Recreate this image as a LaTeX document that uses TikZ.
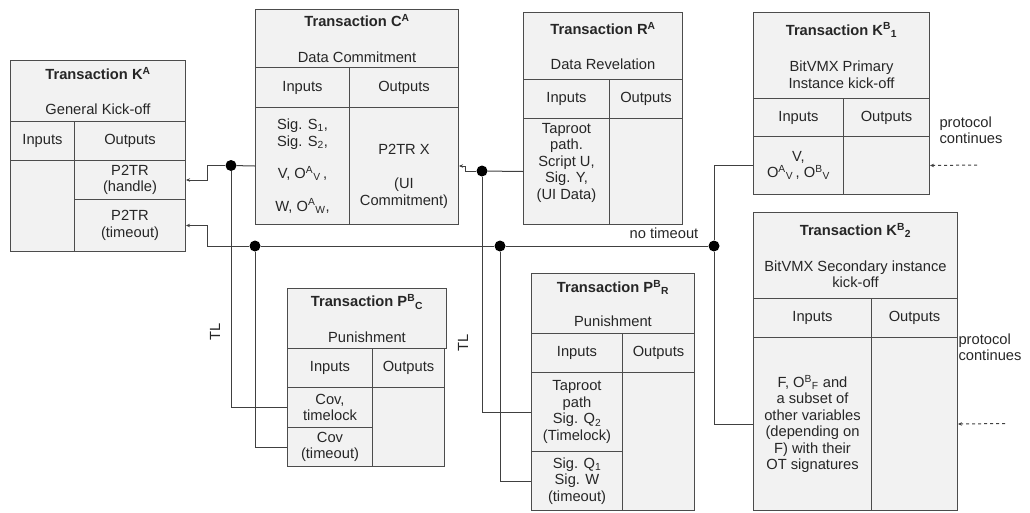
\documentclass[tikz,border=0pt]{standalone}
\usepackage{fontspec}
\setmainfont{Liberation Sans}
\usetikzlibrary{arrows.meta}

\begin{document}
\begin{tikzpicture}[x=1pt, y=-1pt,
  every node/.style={font=\fontsize{14.7pt}{16.5pt}\selectfont, text=black!85},
  cell/.style 2 args={draw=black!70, fill=gray!10, line width=1pt, anchor=north west,
    inner sep=0pt, align=center, minimum width=#1, minimum height=#2},
  link/.style={draw=black!75, line width=1pt},
  tip/.style={-{Stealth[length=4pt, width=3.5pt]}},
  junction/.style={circle, fill=black, inner sep=0pt, minimum size=11pt},
  continues/.style={link, dashed, tip}]
  \useasboundingbox (0,0) rectangle (1030,512);

  % Transaction K^A
  \node[cell={175pt}{61pt}] (ka-title) at (10,60) {\textbf{Transaction K\textsuperscript{A}}\\[19pt]General Kick-off};
  \node[cell={64pt}{39pt}] (ka-in) at (10,121) {Inputs};
  \node[cell={111pt}{39pt}] (ka-out) at (74,121) {Outputs};
  \node[cell={64pt}{91pt}] (ka-inbody) at (10,160) {};
  \node[cell={111pt}{39pt}] (ka-handle) at (74,160) {P2TR\\(handle)};
  \node[cell={111pt}{52pt}] (ka-timeout) at (74,199) {P2TR\\(timeout)};

  % Transaction C^A
  \node[cell={203pt}{58pt}] (ca-title) at (255,9) {\textbf{Transaction C\textsuperscript{A}}\\[19pt]Data Commitment};
  \node[cell={94pt}{40pt}] (ca-in) at (255,67) {Inputs};
  \node[cell={109pt}{40pt}] (ca-out) at (349,67) {Outputs};
  \node[cell={94pt}{117pt}] (ca-inbody) at (255,107) {Sig. S\textsubscript{1},\\Sig. S\textsubscript{2},\\[16pt]V, O\textsuperscript{A}\textsubscript{V}\,,\\[16pt]W, O\textsuperscript{A}\textsubscript{W},};
  \node[cell={109pt}{117pt}] (ca-outbody) at (349,107) {};
  \node[align=center] (ca-outtext) at ([yshift=-10pt]ca-outbody.center) {P2TR X\\[18pt](UI\\Commitment)};

  % Transaction R^A
  \node[cell={159pt}{67pt}] (ra-title) at (523,12) {\textbf{Transaction R\textsuperscript{A}}\\[18pt]Data Revelation};
  \node[cell={86pt}{39pt}] (ra-in) at (523,79) {Inputs};
  \node[cell={73pt}{39pt}] (ra-out) at (609,79) {Outputs};
  \node[cell={86pt}{106pt}] (ra-inbody) at (523,118) {};
  \node[cell={73pt}{106pt}] (ra-outbody) at (609,118) {};
  \node[align=center] (ra-intext) at ([yshift=9pt]ra-inbody.center) {Taproot\\path.\\Script U,\\Sig. Y,\\(UI Data)};

  % Transaction K^B_1
  \node[cell={176pt}{86pt}] (kb1-title) at (753,12) {\textbf{Transaction K\textsuperscript{B}\textsubscript{1}}\\[20pt]BitVMX Primary\\Instance kick-off};
  \node[cell={90pt}{38pt}] (kb1-in) at (753,98) {Inputs};
  \node[cell={86pt}{38pt}] (kb1-out) at (843,98) {Outputs};
  \node[cell={90pt}{58pt}] (kb1-inbody) at (753,136) {V,\\O\textsuperscript{A}\textsubscript{V}\,, O\textsuperscript{B}\textsubscript{V}};
  \node[cell={86pt}{58pt}] (kb1-outbody) at (843,136) {};

  % Transaction K^B_2
  \node[cell={204pt}{86pt}] (kb2-title) at (753,212) {\textbf{Transaction K\textsuperscript{B}\textsubscript{2}}\\[19pt]BitVMX Secondary instance\\kick-off};
  \node[cell={118pt}{39pt}] (kb2-in) at (753,298) {Inputs};
  \node[cell={86pt}{39pt}] (kb2-out) at (871,298) {Outputs};
  \node[cell={118pt}{173pt}] (kb2-inbody) at (753,337) {F, O\textsuperscript{B}\textsubscript{F} and\\a subset of\\other variables\\(depending on\\F) with their\\OT signatures};
  \node[cell={86pt}{173pt}] (kb2-outbody) at (871,337) {};

  % Transaction P^B_C
  \node[cell={159pt}{60pt}] (pbc-title) at (287,288) {\textbf{Transaction P\textsuperscript{B}\textsubscript{C}}\\[19pt]Punishment};
  \node[cell={85pt}{39pt}] (pbc-in) at (287,348) {Inputs};
  \node[cell={72pt}{39pt}] (pbc-out) at (372,348) {Outputs};
  \node[cell={85pt}{40pt}] (pbc-cov) at (287,387) {Cov,\\timelock};
  \node[cell={85pt}{39pt}] (pbc-covto) at (287,427) {Cov\\(timeout)};
  \node[cell={72pt}{79pt}] (pbc-outbody) at (372,387) {};

  % Transaction P^B_R
  \node[cell={163pt}{60pt}] (pbr-title) at (531,273) {\textbf{Transaction P\textsuperscript{B}\textsubscript{R}}\\[17pt]Punishment};
  \node[cell={91pt}{39pt}] (pbr-in) at (531,333) {Inputs};
  \node[cell={72pt}{39pt}] (pbr-out) at (622,333) {Outputs};
  \node[cell={91pt}{79pt}] (pbr-tap) at (531,372) {Taproot\\path\\Sig. Q\textsubscript{2}\\(Timelock)};
  \node[cell={91pt}{59pt}] (pbr-sig) at (531,451) {Sig. Q\textsubscript{1}\\Sig. W\\(timeout)};
  \node[cell={72pt}{138pt}] (pbr-outbody) at (622,372) {};

  % junctions
  \node[junction] (j1) at (231,165.5) {};
  \node[junction] (j2) at (255,246) {};
  \node[junction] (j3) at (482,171) {};
  \node[junction] (j4) at (500,246) {};
  \node[junction] (j5) at (714,246) {};

  % connectors
  \draw[link] (ca-inbody.west) -- (j1);
  \draw[link, tip] (j1) -- (207,165.5) |- (ka-handle.east);
  \draw[link] (j1) |- (pbc-cov.west);
  \draw[link, tip] (j2) -- (207,246) |- (ka-timeout.east);
  \draw[link] (j2) |- (pbc-covto.west);
  \draw[link] (j2) -- (j4) -- (j5);
  \draw[link] (j3) -- (ra-inbody.west);
  \draw[link, tip] (j3) -- (465,171) |- (ca-outbody.east);
  \draw[link] (j3) |- (pbr-tap.west);
  \draw[link] (j4) |- (pbr-sig.west);
  \draw[link] (j5) |- (kb1-inbody.west);
  \draw[link] (j5) |- (kb2-inbody.west);

  % protocol continues
  \coordinate (pc1) at (977,165);
  \coordinate (pc2) at (1005,423.5);
  \draw[continues] (pc1) -- (kb1-outbody.east);
  \draw[continues] (pc2) -- (kb2-outbody.east);
  \node[anchor=west, align=left] (cont-1) at (936,130) {protocol\\continues};
  \node[anchor=west, align=left] (cont-2) at (955,347) {protocol\\continues};

  % labels
  \node[rotate=90] (tl-c) at (215,332) {TL};
  \node[rotate=90] (tl-r) at (463,343) {TL};
  \node (no-timeout) at (664,233) {no timeout};
\end{tikzpicture}
\end{document}
